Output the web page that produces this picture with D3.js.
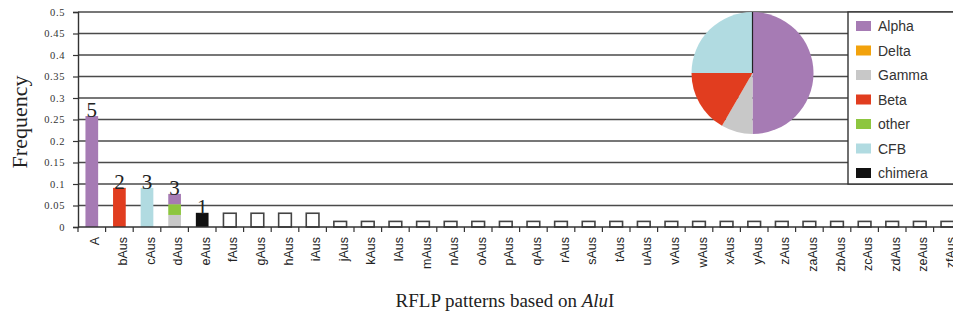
<!DOCTYPE html>
<html>
<head>
<meta charset="utf-8">
<script src="https://cdn.jsdelivr.net/npm/d3@7"></script>
<style>
  html, body { margin: 0; padding: 0; background: #fff; }
  svg { display: block; }
</style>
</head>
<body>
<svg id="chart" width="953" height="322"></svg>
<script>
// RFLP pattern categories
const categories = ["A", "bAus", "cAus", "dAus", "eAus", "fAus", "gAus", "hAus", "iAus",
  "jAus", "kAus", "lAus", "mAus", "nAus", "oAus", "pAus", "qAus", "rAus", "sAus", "tAus",
  "uAus", "vAus", "wAus", "xAus", "yAus", "zAus", "zaAus", "zbAus", "zcAus", "zdAus", "zeAus", "zfAus"];

// Frequency per pattern, split by taxonomic group (stacked bottom to top)
const gammaVals   = [0, 0, 0, 0.028, 0, 0, 0, 0, 0, 0, 0, 0, 0, 0, 0, 0, 0, 0, 0, 0, 0, 0, 0, 0, 0, 0, 0, 0, 0, 0, 0, 0];
const otherVals   = [0, 0, 0, 0.025, 0, 0, 0, 0, 0, 0, 0, 0, 0, 0, 0, 0, 0, 0, 0, 0, 0, 0, 0, 0, 0, 0, 0, 0, 0, 0, 0, 0];
const alphaVals   = [0.258, 0, 0, 0.024, 0, 0, 0, 0, 0, 0, 0, 0, 0, 0, 0, 0, 0, 0, 0, 0, 0, 0, 0, 0, 0, 0, 0, 0, 0, 0, 0, 0];
const betaVals    = [0, 0.091, 0, 0, 0, 0, 0, 0, 0, 0, 0, 0, 0, 0, 0, 0, 0, 0, 0, 0, 0, 0, 0, 0, 0, 0, 0, 0, 0, 0, 0, 0];
const cfbVals     = [0, 0, 0.091, 0, 0, 0, 0, 0, 0, 0, 0, 0, 0, 0, 0, 0, 0, 0, 0, 0, 0, 0, 0, 0, 0, 0, 0, 0, 0, 0, 0, 0];
const chimeraVals = [0, 0, 0, 0, 0.033, 0, 0, 0, 0, 0, 0, 0, 0, 0, 0, 0, 0, 0, 0, 0, 0, 0, 0, 0, 0, 0, 0, 0, 0, 0, 0, 0];
const unknownVals = [0, 0, 0, 0, 0, 0.032, 0.032, 0.032, 0.032, 0.013, 0.013, 0.013, 0.013, 0.013, 0.013,
  0.013, 0.013, 0.013, 0.013, 0.013, 0.013, 0.013, 0.013, 0.013, 0.013, 0.013, 0.013, 0.013, 0.013, 0.013, 0.013, 0.013];

// Number of isolates shown above the bars
const isolateCounts = ["5", "2", "3", "3", "1"];

// Y axis ticks
const yTicks = [0, 0.05, 0.1, 0.15, 0.2, 0.25, 0.3, 0.35, 0.4, 0.45, 0.5];
const yTickLabels = ["0", "0.05", "0.1", "0.15", "0.2", "0.25", "0.3", "0.35", "0.4", "0.45", "0.5"];

// Legend groups and the pie of group composition
const groups = ["Alpha", "Delta", "Gamma", "Beta", "other", "CFB", "chimera"];
const groupColors = ["#a67bb4", "#f2a20c", "#c8c8c8", "#e13d1f", "#8dc63f", "#b1dbe1", "#111111"];
const pieValues = [6, 0, 1, 2, 0, 3, 0];

const colorOf = d3.scaleOrdinal().domain(groups.concat(["none"])).range(groupColors.concat(["#ffffff"]));

const rows = categories.map((c, i) => ({
  cat: c,
  Gamma: gammaVals[i], other: otherVals[i], Alpha: alphaVals[i], Beta: betaVals[i],
  CFB: cfbVals[i], chimera: chimeraVals[i], none: unknownVals[i]
}));
const stackKeys = ["Gamma", "other", "Alpha", "Beta", "CFB", "chimera", "none"];
const stacked = d3.stack().keys(stackKeys)(rows);

const svg = d3.select("#chart");
const plotLeft = 78, plotTop = 12, plotBottom = 227;
const step = 27.6;

const x = d3.scaleBand().domain(categories)
  .range([plotLeft, plotLeft + step * categories.length])
  .paddingInner(0.54).paddingOuter(0.27);
const y = d3.scaleLinear().domain([0, 0.5]).range([plotBottom, plotTop]);

// Horizontal gridlines
svg.append("g").selectAll("line").data(yTicks.slice(1)).join("line")
  .attr("x1", plotLeft).attr("x2", 953)
  .attr("y1", d => y(d)).attr("y2", d => y(d))
  .attr("stroke", "#4a4a4a").attr("stroke-width", 1.4);

// Y axis
const yAxis = d3.axisLeft(y).tickValues(yTicks)
  .tickFormat((d, i) => yTickLabels[i]).tickSize(5).tickPadding(8);
const gy = svg.append("g").attr("transform", `translate(${plotLeft},0)`).call(yAxis);
gy.select(".domain").attr("stroke", "#333").attr("stroke-width", 1.4);
gy.selectAll(".tick line").attr("stroke", "#333").attr("stroke-width", 1.2);
gy.selectAll(".tick text")
  .attr("font-family", "'Liberation Serif', 'DejaVu Serif', serif")
  .attr("font-size", 10.5).attr("letter-spacing", 0.6).attr("fill", "#333");

// Stacked bars
svg.append("g").selectAll("g").data(stacked).join("g")
  .selectAll("rect").data(s => s.map(d => Object.assign({ key: s.key }, d)).filter(d => d[1] > d[0]))
  .join("rect")
  .attr("x", d => x(d.data.cat))
  .attr("width", x.bandwidth())
  .attr("y", d => y(d[1]))
  .attr("height", d => y(d[0]) - y(d[1]))
  .attr("fill", d => colorOf(d.key))
  .attr("stroke", d => d.key === "none" ? "#444" : "none")
  .attr("stroke-width", 1.6);

// X axis line with ticks between categories
svg.append("line")
  .attr("x1", plotLeft).attr("x2", 953).attr("y1", plotBottom).attr("y2", plotBottom)
  .attr("stroke", "#333").attr("stroke-width", 1.4);
svg.append("g").selectAll("line").data(d3.range(categories.length + 1)).join("line")
  .attr("x1", i => plotLeft + i * step).attr("x2", i => plotLeft + i * step)
  .attr("y1", plotBottom).attr("y2", plotBottom + 5)
  .attr("stroke", "#333").attr("stroke-width", 1.2);

// Category labels, rotated
svg.append("g").selectAll("text").data(categories).join("text")
  .attr("transform", d => `translate(${x(d) + x.bandwidth() / 2},237) rotate(-90)`)
  .attr("text-anchor", "end").attr("dy", "0.6em")
  .attr("font-family", "'Liberation Sans', Arial, sans-serif")
  .attr("font-size", 12.5).attr("fill", "#222")
  .text(d => d);

// Isolate counts above bars
svg.append("g").selectAll("text").data(isolateCounts).join("text")
  .attr("x", (d, i) => x(categories[i]) + x.bandwidth() / 2)
  .attr("y", (d, i) => y(d3.sum(stackKeys, k => rows[i][k])) + 1)
  .attr("text-anchor", "middle")
  .attr("font-family", "'Liberation Serif', 'DejaVu Serif', serif")
  .attr("font-size", 21).attr("fill", "#222")
  .text(d => d);

// Axis titles
svg.append("text")
  .attr("transform", "translate(27,122) rotate(-90)")
  .attr("text-anchor", "middle")
  .attr("font-family", "'Liberation Serif', 'DejaVu Serif', serif")
  .attr("font-size", 22).attr("fill", "#222")
  .text("Frequency");

const xTitle = svg.append("text")
  .attr("x", 505).attr("y", 307).attr("text-anchor", "middle")
  .attr("font-family", "'Liberation Serif', 'DejaVu Serif', serif")
  .attr("font-size", 19).attr("fill", "#222");
xTitle.append("tspan").text("RFLP patterns based on ");
xTitle.append("tspan").attr("font-style", "italic").text("Alu");
xTitle.append("tspan").text("I");

// Pie of group composition
const pieCx = 752.5, pieCy = 73, pieR = 61;
const arcs = d3.pie().sort(null).value(d => d)(pieValues);
const arcGen = d3.arc().innerRadius(0).outerRadius(pieR);
const pieG = svg.append("g").attr("transform", `translate(${pieCx},${pieCy})`);
pieG.selectAll("path").data(arcs.filter(a => a.value > 0)).join("path")
  .attr("d", arcGen)
  .attr("fill", a => groupColors[a.index]);
pieG.append("line").attr("x1", 0).attr("y1", 0).attr("x2", 0).attr("y2", -pieR)
  .attr("stroke", "#222").attr("stroke-width", 1.2);

// Legend box
const legX = 848, legTop = y(0.5), legBottom = y(0.1);
svg.append("rect")
  .attr("x", legX).attr("y", legTop).attr("width", 120).attr("height", legBottom - legTop)
  .attr("fill", "#fff").attr("stroke", "#333").attr("stroke-width", 1.4);

const legend = svg.append("g").selectAll("g").data(groups).join("g")
  .attr("transform", (d, i) => `translate(856,${26 + i * 24.5})`);
legend.append("rect")
  .attr("x", 0).attr("y", -5).attr("width", 15).attr("height", 10)
  .attr("fill", (d, i) => groupColors[i]);
legend.append("text")
  .attr("x", 22).attr("dy", "0.36em")
  .attr("font-family", "'Liberation Sans', Arial, sans-serif")
  .attr("font-size", 14).attr("fill", "#333")
  .text(d => d);
</script>
</body>
</html>
